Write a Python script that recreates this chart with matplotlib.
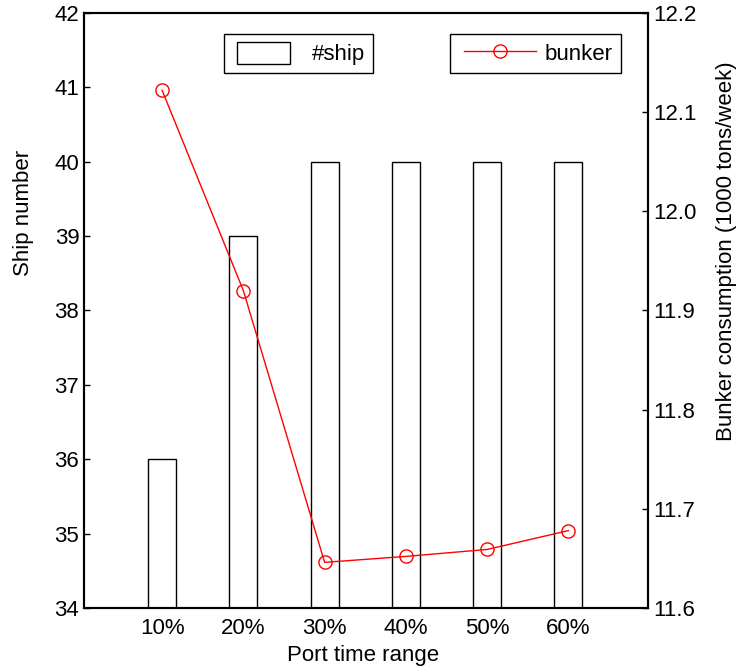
import numpy as np
import matplotlib.pyplot as plt
from matplotlib.legend_handler import HandlerPatch, HandlerLine2D

plt.rcParams['font.family'] = ['Liberation Sans', 'DejaVu Sans']
plt.rcParams['font.size'] = 16

categories = ['10%', '20%', '30%', '40%', '50%', '60%']
ships = [36, 39, 40, 40, 40, 40]
bunker = [12.122, 11.92, 11.646, 11.652, 11.659, 11.678]

x = np.arange(1, len(categories) + 1)

fig = plt.figure(figsize=(7.38, 6.67), dpi=100)
ax = fig.add_axes([0.114, 0.0885, 0.764, 0.892])
ax2 = ax.twinx()

bars = ax.bar(x, [s - 34 for s in ships], bottom=34, width=0.345,
              facecolor='white', edgecolor='black', linewidth=1.0)
line, = ax2.plot(x, bunker, color='red', linewidth=1.0, marker='o', markersize=9.5,
                 markerfacecolor='none', markeredgecolor='red', markeredgewidth=1.0)

ax.set_xlim(0.04, 6.98)
ax.set_ylim(34, 42)
ax2.set_ylim(11.6, 12.2)
ax.set_xticks(x)
ax.set_xticklabels(categories)
ax.set_yticks(range(34, 43))
ax2.set_yticks([11.6, 11.7, 11.8, 11.9, 12.0, 12.1, 12.2])
ax2.set_yticklabels(['11.6', '11.7', '11.8', '11.9', '12.0', '12.1', '12.2'])

ax.tick_params(axis='x', length=0, pad=7)
ax.tick_params(axis='y', direction='in', length=4, width=1)
ax2.tick_params(axis='y', direction='in', length=4, width=1)

for a in (ax, ax2):
    for s in a.spines.values():
        s.set_linewidth(1.5)

ax.set_xlabel('Port time range')
ax.set_ylabel('Ship number')
ax2.set_ylabel('Bunker consumption (1000 tons/week)')
ax.xaxis.set_label_coords(0.494, -0.062)
ax.yaxis.set_label_coords(-0.089, 0.664)
ax2.yaxis.set_label_coords(1.1206, 0.60)

leg1 = ax.legend([bars[0]], ['#ship'], loc='upper left', bbox_to_anchor=(0.248, 0.965),
                 borderaxespad=0, fancybox=False, edgecolor='black',
                 handlelength=2.62, handleheight=1.17, handletextpad=1.0,
                 borderpad=0.35, framealpha=1,
                 handler_map={bars[0]: HandlerPatch(xpad=0.234)})
leg1.get_frame().set_linewidth(1.0)
leg2 = ax2.legend([line], ['bunker'], loc='upper left', bbox_to_anchor=(0.649, 0.965),
                  borderaxespad=0, fancybox=False, edgecolor='black',
                  handlelength=3.52, handleheight=1.17, handletextpad=0.4,
                  borderpad=0.35, framealpha=1,
                  handler_map={line: HandlerLine2D(xpad=0.28)})
leg2.get_frame().set_linewidth(1.0)

fig.savefig('out.png', dpi=100)
